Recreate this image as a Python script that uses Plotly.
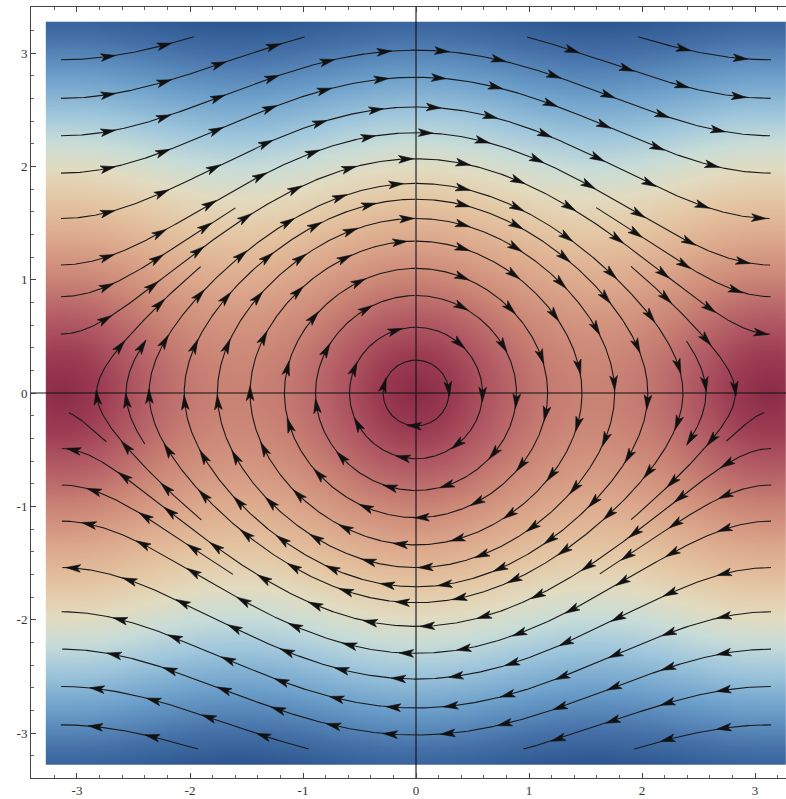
import numpy as np
import plotly.graph_objects as go

PI = np.pi

# ---------------- data ----------------
tick_vals = [-3, -2, -1, 0, 1, 2, 3]
tick_text = ["-3", "-2", "-1", "0", "1", "2", "3"]

# closed orbits drawn complete: crossing height on the y axis (top)
closed_y0 = [1.85, 1.71, 1.54, 1.34, 1.10, 0.86, 0.58, 0.29]

# running orbits drawn across the whole width: y at the left edge
run_top_y = [2.27, 1.94, 1.54, 1.13, 0.52]
run_bot_y = [-2.26, -1.93, -1.54, -1.13, -0.49]

# partial streamlines of the left half (start -> end, in flow direction);
# each one also appears mirrored on the right half
seg_sx = [-PI, -PI, -PI, -1.93, -0.95, -1.62, -2.74, -1.90, -2.40]
seg_sy = [2.94, 2.60, 0.85, -PI, -PI, -1.60, -0.43, -1.12, -0.45]
seg_ex = [-1.96, -0.98, -1.59, -PI, -PI, -PI, -3.09, -1.90, -2.40]
seg_ey = [PI, PI, 1.62, -2.91, -2.59, -0.83, -0.21, 1.12, 0.46]

# colour scale of the density (low speed = dark red, high = blue)
cs_pos = [0.0, 0.1, 0.2, 0.3, 0.4, 0.5, 0.58, 0.65, 0.72, 0.82, 0.92, 1.0]
cs_col = ["#8a2c48", "#9c3c52", "#b45e66", "#cb8676", "#dca88c", "#e4c6a3",
          "#e2dbc0", "#c8dcd8", "#a0c7dc", "#6c9fca", "#4571a8", "#2e5790"]

# ---------------- vector field & integration ----------------
def field(p):
    return np.array([p[1], -np.sin(p[0])])

def unit(p):
    v = field(p)
    n = np.hypot(v[0], v[1])
    return v / n if n > 1e-12 else np.zeros(2)

def trace(sx, sy, ex, ey, ds=0.004, max_len=40.0):
    p = np.array([sx, sy], float)
    end = np.array([ex, ey], float)
    pts = [p.copy()]
    s = 0.0
    best = np.inf
    while s < max_len:
        k1 = unit(p); k2 = unit(p + ds / 2 * k1)
        k3 = unit(p + ds / 2 * k2); k4 = unit(p + ds * k3)
        p = p + ds / 6 * (k1 + 2 * k2 + 2 * k3 + k4)
        s += ds
        if abs(p[0]) > PI + 0.003 or abs(p[1]) > PI + 0.003:
            break
        pts.append(p.copy())
        d = np.hypot(*(p - end))
        if s > 0.3:
            if d < ds:
                break
            if d < 0.12:
                if d > best:
                    break
                best = d
    return np.array(pts)

lines = []
for y0 in closed_y0:
    lines.append(trace(0.0, y0, 0.0, y0))
for y0 in run_top_y:
    lines.append(trace(-PI, y0, PI, y0))
for y0 in run_bot_y:
    lines.append(trace(PI, y0, -PI, y0))
for sx, sy, ex, ey in zip(seg_sx, seg_sy, seg_ex, seg_ey):
    pl = trace(sx, sy, ex, ey)
    lines.append(pl)
    m = pl[::-1].copy()
    m[:, 0] = -m[:, 0]
    lines.append(m)

# polylines
lx, ly = [], []
for pl in lines:
    pl2 = pl[::3]
    lx.extend(pl2[:, 0].tolist() + [None])
    ly.extend(pl2[:, 1].tolist() + [None])

# arrowheads along arc length
S0, SP = 0.42, 0.51
AL, AW, AN = 0.13, 0.068, 0.03
ax_, ay_ = [], []
for pl in lines:
    seg = np.diff(pl, axis=0)
    sl = np.hypot(seg[:, 0], seg[:, 1])
    cum = np.concatenate([[0], np.cumsum(sl)])
    total = cum[-1]
    s = S0
    while s < total - 0.04:
        i = np.searchsorted(cum, s) - 1
        i = max(0, min(i, len(seg) - 1))
        t = seg[i] / (sl[i] if sl[i] > 0 else 1)
        f = (s - cum[i]) / (sl[i] if sl[i] > 0 else 1)
        c = pl[i] + f * seg[i]
        n = np.array([-t[1], t[0]])
        tip = c + AL / 2 * t
        back = c - AL / 2 * t
        p1 = back + AW / 2 * n
        p2 = back + AN * t
        p3 = back - AW / 2 * n
        for q in (tip, p1, p2, p3, tip):
            ax_.append(q[0]); ay_.append(q[1])
        ax_.append(None); ay_.append(None)
        s += SP

# density background
gx = np.linspace(-3.265, 3.265, 300)
gy = np.linspace(-3.265, 3.265, 300)
GX, GY = np.meshgrid(gx, gy)
Z = np.sqrt(GY ** 2 + np.sin(GX) ** 2)

fig = go.Figure()
fig.add_trace(go.Heatmap(
    x=gx, y=gy, z=Z, zmin=0, zmax=float(Z.max()),
    colorscale=[[p, c] for p, c in zip(cs_pos, cs_col)],
    showscale=False, zsmooth="best", hoverinfo="skip"))

XR = [-3.407, 3.274]
YR = [-3.397, 3.406]
# axes through the origin
fig.add_trace(go.Scatter(x=[XR[0], XR[1], None, 0, 0], y=[0, 0, None, YR[0], YR[1]],
                         mode="lines", line=dict(color="#111111", width=1.1),
                         hoverinfo="skip", showlegend=False))
fig.add_trace(go.Scatter(x=lx, y=ly, mode="lines",
                         line=dict(color="#1a1a1a", width=1.1),
                         hoverinfo="skip", showlegend=False))
fig.add_trace(go.Scatter(x=ax_, y=ay_, mode="lines", fill="toself",
                         fillcolor="#111111", line=dict(color="#111111", width=0.6),
                         hoverinfo="skip", showlegend=False))

tickfont = dict(family="Liberation Serif", size=13, color="#333333")
fig.update_xaxes(range=XR, tickvals=tick_vals, ticktext=tick_text, ticks="inside",
                 ticklen=5, tickcolor="#444444", showline=True, linecolor="#444444",
                 linewidth=1, mirror="ticks", showgrid=False, zeroline=False,
                 tickfont=tickfont,
                 minor=dict(ticks="inside", ticklen=3, dtick=0.2, tick0=0,
                            tickcolor="#666666", showgrid=False))
fig.update_yaxes(range=YR, tickvals=tick_vals, ticktext=tick_text, ticks="inside",
                 ticklen=5, tickcolor="#444444", showline=True, linecolor="#444444",
                 linewidth=1, mirror=False, showgrid=False, zeroline=False,
                 tickfont=tickfont,
                 minor=dict(ticks="inside", ticklen=3, dtick=0.2, tick0=0,
                            tickcolor="#666666", showgrid=False))
fig.update_layout(width=786, height=799, margin=dict(l=31, r=0, t=7, b=21),
                  paper_bgcolor="white", plot_bgcolor="white", showlegend=False)
fig.write_html("out.html", config={"displayModeBar": False},
               post_script="document.body.style.margin='0';document.body.style.overflow='hidden';")
